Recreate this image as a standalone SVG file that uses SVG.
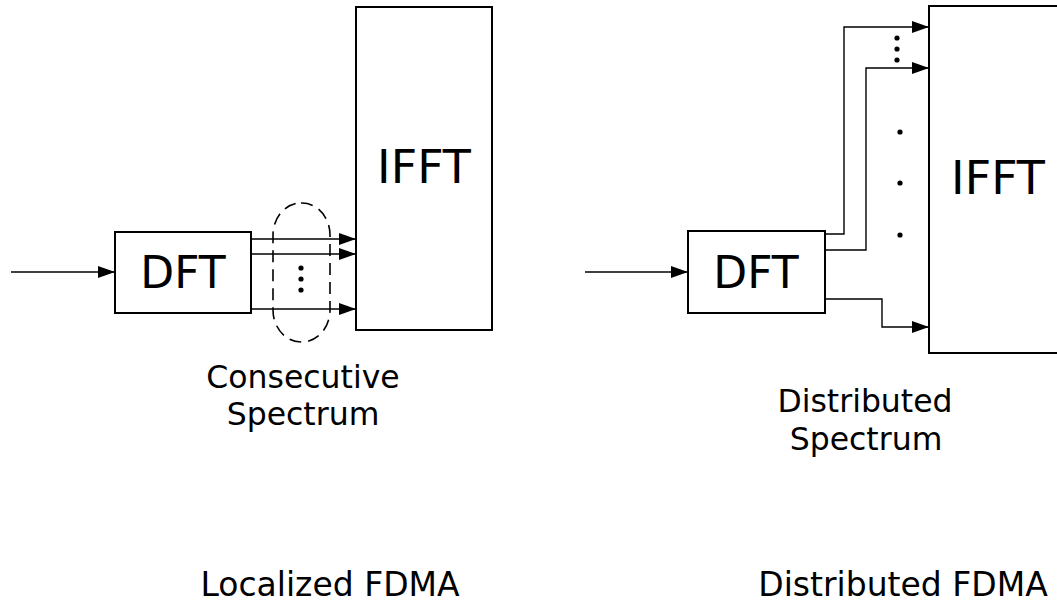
<svg xmlns="http://www.w3.org/2000/svg" width="1057" height="604" viewBox="0 0 1057 604">
<style>
.box{fill:#fff;stroke:#000;stroke-width:2}
.ln{fill:none;stroke:#000;stroke-width:1.4}
.t{font-family:"DejaVu Sans","Noto Sans",sans-serif;fill:#000;text-anchor:middle}
.dot{fill:#000}
</style>
<defs>
<marker id="ah" markerUnits="userSpaceOnUse" markerWidth="18" markerHeight="12" refX="17" refY="6" orient="auto">
<path d="M0,0 L17,6 L0,12 Z" fill="#000"/>
</marker>
</defs>
<rect width="1057" height="604" fill="#fff"/>
<g id="connectors">
<line class="ln" x1="11" y1="272" x2="115" y2="272" marker-end="url(#ah)"/>
<line class="ln" x1="251" y1="239" x2="356" y2="239" marker-end="url(#ah)"/>
<line class="ln" x1="251" y1="254" x2="356" y2="254" marker-end="url(#ah)"/>
<line class="ln" x1="251" y1="309" x2="356" y2="309" marker-end="url(#ah)"/>
<line class="ln" x1="585" y1="272" x2="688" y2="272" marker-end="url(#ah)"/>
<polyline class="ln" points="825,234 844,234 844,27 929,27" marker-end="url(#ah)"/>
<polyline class="ln" points="825,250 866,250 866,68 929,68" marker-end="url(#ah)"/>
<polyline class="ln" points="825,299 882,299 882,327 929,327" marker-end="url(#ah)"/>
</g>
<g id="dft-left">
<rect class="box" x="115" y="232" width="136" height="81"/>
<text class="t" x="183" y="288" font-size="44">DFT</text>
</g>
<g id="ifft-left">
<rect class="box" x="356" y="7" width="136" height="323"/>
<text class="t" x="424" y="183" font-size="46">IFFT</text>
</g>
<g id="group-left">
<rect x="273" y="203" width="57" height="139" rx="28" ry="32" fill="none" stroke="#000" stroke-width="1.6" stroke-dasharray="12,7"/>
<circle class="dot" cx="301" cy="268" r="2.6"/>
<circle class="dot" cx="301" cy="279" r="2.6"/>
<circle class="dot" cx="301" cy="290" r="2.6"/>
</g>
<g id="dft-right">
<rect class="box" x="688" y="231" width="137" height="82"/>
<text class="t" x="756" y="288" font-size="44">DFT</text>
</g>
<g id="ifft-right">
<rect class="box" x="929" y="6" width="140" height="347"/>
<text class="t" x="998" y="194" font-size="46">IFFT</text>
</g>
<g id="dots-right">
<circle class="dot" cx="897" cy="38" r="2.6"/>
<circle class="dot" cx="897" cy="49" r="2.6"/>
<circle class="dot" cx="897" cy="60" r="2.6"/>
<circle class="dot" cx="900" cy="132" r="2.6"/>
<circle class="dot" cx="900" cy="183" r="2.6"/>
<circle class="dot" cx="900" cy="235" r="2.6"/>
</g>
<g id="labels">
<text class="t" x="303" y="388" font-size="31.5">Consecutive</text>
<text class="t" x="303" y="425" font-size="31.5">Spectrum</text>
<text class="t" x="865" y="412" font-size="31.5">Distributed</text>
<text class="t" x="866" y="450" font-size="31.5">Spectrum</text>
<text class="t" x="330" y="596" font-size="33">Localized FDMA</text>
<text class="t" x="903" y="596" font-size="33">Distributed FDMA</text>
</g>
</svg>
